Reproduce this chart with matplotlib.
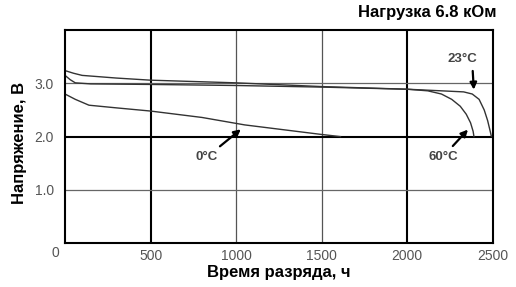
import numpy as np
import matplotlib.pyplot as plt

plt.rcParams['font.family'] = ['Liberation Sans', 'DejaVu Sans']

# кривые разряда (время, ч / напряжение, В)
t_23 = [0, 50, 100, 300, 500, 1000, 1500, 2000, 2200, 2330, 2380, 2420, 2450, 2470, 2485, 2492]
u_23 = [3.24, 3.19, 3.15, 3.10, 3.06, 3.01, 2.94, 2.89, 2.86, 2.84, 2.80, 2.70, 2.50, 2.30, 2.10, 2.0]

t_60 = [0, 30, 60, 150, 500, 1000, 1500, 2000, 2120, 2200, 2260, 2310, 2345, 2370, 2385, 2390]
u_60 = [3.15, 3.07, 3.01, 2.99, 2.98, 2.96, 2.93, 2.89, 2.86, 2.80, 2.70, 2.57, 2.42, 2.26, 2.10, 2.0]

t_0 = [0, 60, 140, 300, 500, 800, 1050, 1300, 1500, 1610]
u_0 = [2.80, 2.70, 2.59, 2.54, 2.48, 2.36, 2.22, 2.12, 2.04, 2.0]

xticks = [500, 1000, 1500, 2000, 2500]
yticks = [1.0, 2.0, 3.0]

fig = plt.figure(figsize=(5.16, 2.87), dpi=100)
ax = fig.add_axes([0.126, 0.153, 0.829, 0.742])

ax.set_xlim(0, 2500)
ax.set_ylim(0, 4.0)

# сетка: толстые и тонкие линии
for x in [500, 2000]:
    ax.axvline(x, color='black', lw=1.5, zorder=1)
for x in [1000, 1500]:
    ax.axvline(x, color='#555555', lw=0.9, zorder=1)
ax.axhline(2.0, color='black', lw=1.5, zorder=1)
for y in [1.0, 3.0]:
    ax.axhline(y, color='#666666', lw=0.9, zorder=1)

for t, u in [(t_23, u_23), (t_60, u_60), (t_0, u_0)]:
    ax.plot(t, u, color='#333333', lw=1.0, zorder=2)

for s in ax.spines.values():
    s.set_linewidth(1.5)

ax.set_xticks(xticks)
ax.set_xticklabels([str(v) for v in xticks])
ax.set_yticks(yticks)
ax.set_yticklabels(['%.1f' % v for v in yticks])
ax.tick_params(length=0, labelsize=10, labelcolor='#555555')
ax.tick_params(axis='x', pad=4)
ax.tick_params(axis='y', pad=8)
ax.text(-55, -0.19, '0', ha='center', va='center', fontsize=10, color='#555555')

ax.set_xlabel('Время разряда, ч', fontsize=12, fontweight='bold', labelpad=2)
ax.set_ylabel('Напряжение, В', fontsize=12, fontweight='bold')
ax.yaxis.set_label_coords(-0.088, 0.47)
fig.text(0.963, 0.955, 'Нагрузка 6.8 кОм', ha='right', va='center',
         fontsize=12, fontweight='bold')

arrow = dict(arrowstyle='-|>', color='black', lw=1.6, mutation_scale=10)
ax.annotate('0°C', xy=(1040, 2.17), xytext=(830, 1.62), ha='center', va='center',
            fontsize=9.5, color='#444444', fontweight='bold', arrowprops=arrow)
ax.annotate('60°C', xy=(2366, 2.17), xytext=(2208, 1.62), ha='center', va='center',
            fontsize=9.5, color='#444444', fontweight='bold', arrowprops=arrow)
ax.annotate('23°C', xy=(2390, 2.83), xytext=(2320, 3.45), ha='center', va='center',
            fontsize=9.5, color='#444444', fontweight='bold',
            arrowprops=dict(arrowstyle='-|>', color='black', lw=1.6, mutation_scale=10,
                            relpos=(0.85, 0.0)))

fig.savefig('out.png', dpi=100)
